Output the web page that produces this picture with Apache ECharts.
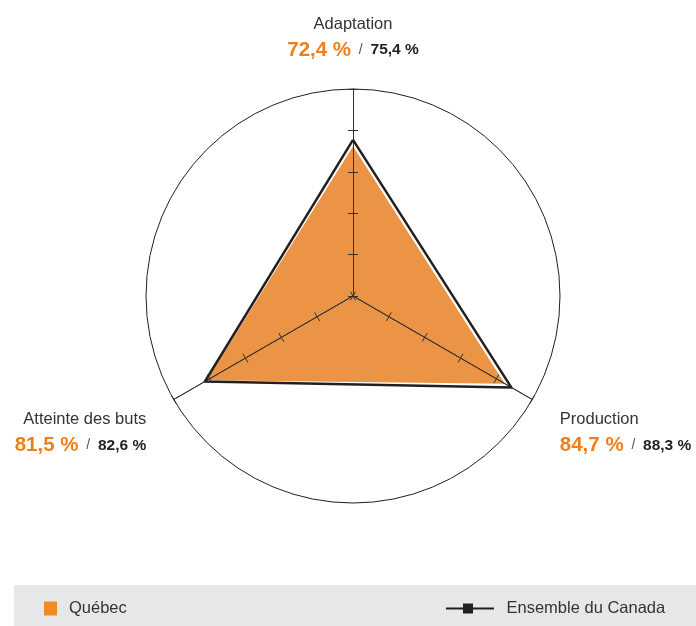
<!DOCTYPE html>
<html lang="fr">
<head>
    <meta charset="UTF-8">
    <title>Radar</title>
    <style>
        * {
            margin: 0;
            padding: 0;
        }
        html, body {
            width: 100%;
            height: 100%;
            background: #fff;
        }
        #chart {
            width: 696px;
            height: 626px;
        }
    </style>
    <script src="https://cdn.jsdelivr.net/npm/echarts@6/dist/echarts.min.js"></script>
</head>
<body>
<div id="chart"></div>
<script>
    // indicateurs (ordre ECharts : haut, bas-gauche, bas-droite)
    const categories = ['Adaptation', 'Atteinte des buts', 'Production']
    const quebec = [72.4, 81.5, 84.7]
    const canada = [75.4, 82.6, 88.3]
    const seriesNames = ['Québec', 'Ensemble du Canada']

    function fmt(v) {
        return v.toFixed(1).replace('.', ',') + ' %'
    }

    const center = [353, 296]
    const radius = 207
    const indicators = categories.map(function (c) {
        return {name: c, min: 0, max: 100}
    })
    const clear = 'rgba(0,0,0,0)'

    let chart = echarts.init(document.getElementById('chart'))
    let option = {
        backgroundColor: '#fff',
        animation: false,
        graphic: [{
            type: 'rect',
            left: 14,
            top: 585,
            shape: {width: 682, height: 41},
            style: {fill: '#e6e7e8'},
            z: -1
        }],
        legend: [{
            left: 44,
            top: 600,
            padding: 0,
            icon: 'rect',
            itemWidth: 13,
            itemHeight: 14,
            itemGap: 10,
            textStyle: {color: '#333', fontSize: 16.5, fontFamily: 'Liberation Sans', padding: [0, 0, 0, 7]},
            data: [{name: seriesNames[0], itemStyle: {color: '#f08a24', borderWidth: 0}}]
        }, {
            left: 446,
            top: 600,
            padding: 0,
            icon: 'path://M0,4 L17,4 L17,0 L27,0 L27,4 L48,4 L48,6 L27,6 L27,10 L17,10 L17,6 L0,6 Z',
            itemWidth: 49,
            itemHeight: 10,
            itemGap: 10,
            textStyle: {color: '#333', fontSize: 16.5, fontFamily: 'Liberation Sans', padding: [0, 0, 0, 7]},
            data: [{name: seriesNames[1], itemStyle: {color: '#231f20', borderWidth: 0}}]
        }],
        radar: [{
            center: center,
            radius: radius,
            shape: 'circle',
            startAngle: 90,
            splitNumber: 5,
            z: 2,
            indicator: indicators,
            axisName: {
                show: true,
                fontFamily: 'Liberation Sans',
                padding: [40, 5, 0, 5],
                formatter: function (name) {
                    let i = categories.indexOf(name)
                    return '{n|' + name + '}\n{q|' + fmt(quebec[i]) + '}{s|  /  }{c|' + fmt(canada[i]) + '}'
                },
                rich: {
                    n: {fontSize: 16.5, color: '#333', lineHeight: 26, fontFamily: 'Liberation Sans'},
                    q: {fontSize: 20.5, color: '#ef7f1a', fontWeight: 'bold', lineHeight: 26, fontFamily: 'Liberation Sans'},
                    s: {fontSize: 14, color: '#555', lineHeight: 26, fontFamily: 'Liberation Sans'},
                    c: {fontSize: 15.5, color: '#231f20', fontWeight: 'bold', lineHeight: 26, fontFamily: 'Liberation Sans'}
                }
            },
            nameGap: 26,
            axisLine: {show: true, lineStyle: {color: '#333', width: 1}},
            axisTick: {show: true, length: 5, lineStyle: {color: '#333', width: 1}},
            splitLine: {
                show: true,
                lineStyle: {
                    color: [clear, clear, clear, clear, clear, '#231f20'],
                    width: 1
                }
            },
            splitArea: {show: false}
        }, {
            // seconde moitié des graduations (de l'autre côté des axes)
            center: center,
            radius: radius,
            shape: 'circle',
            startAngle: 90,
            splitNumber: 5,
            z: 2,
            indicator: indicators,
            axisName: {show: false},
            axisLine: {show: true, lineStyle: {color: '#333', width: 1}},
            axisTick: {show: true, length: -5, lineStyle: {color: '#333', width: 1}},
            splitLine: {show: false},
            splitArea: {show: false}
        }],
        series: [{
            name: seriesNames[0],
            type: 'radar',
            radarIndex: 0,
            symbol: 'none',
            z: 1,
            lineStyle: {color: '#fff', width: 1},
            itemStyle: {color: '#f08a24'},
            areaStyle: {color: '#ec9445', opacity: 1},
            data: [{value: quebec, name: seriesNames[0]}]
        }, {
            name: seriesNames[1],
            type: 'radar',
            radarIndex: 0,
            symbol: 'none',
            z: 3,
            lineStyle: {color: '#231f20', width: 2.5},
            itemStyle: {color: '#231f20'},
            data: [{value: canada, name: seriesNames[1]}]
        }]
    }
    chart.setOption(option, true)
</script>
</body>
</html>
